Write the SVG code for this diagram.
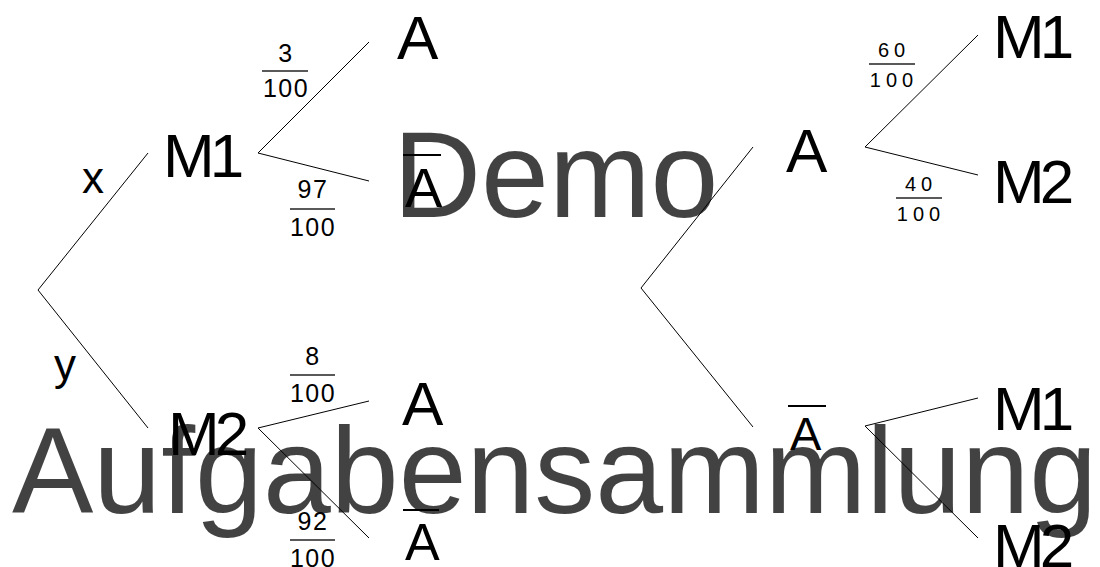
<svg xmlns="http://www.w3.org/2000/svg" width="1100" height="567" viewBox="0 0 1100 567">
<style>
text{font-family:"Liberation Sans",Arial,sans-serif;fill:#000}
.big{font-size:62px;letter-spacing:-5px}
.lbl{font-size:44px;text-anchor:middle}
.fl{font-size:25px;letter-spacing:1.5px;text-anchor:middle}
.fr{font-size:20px;letter-spacing:5px;text-anchor:middle}
.bar{stroke:#222;stroke-width:1.3}
.ov{stroke:#000;stroke-width:2}
.wm{fill:#000;fill-opacity:0.74;font-size:122px}
</style>
<rect width="1100" height="567" fill="#fff"/>
<g id="connectors" fill="none" stroke="#000" stroke-width="1">
<polyline points="148,153 38,290 148,428"/>
<polyline points="369,42 258,153 369,181"/>
<polyline points="369,401 258,428 369,538"/>
<polyline points="753,147 641,288 753,427"/>
<polyline points="978,35 865,147 978,175"/>
<polyline points="978,398 865,426 978,538"/>
</g>
<g id="edge-x"><text class="lbl" x="93" y="193">x</text></g>
<g id="edge-y"><text class="lbl" x="65" y="380">y</text></g>
<g id="node-M1"><text class="big" x="163" y="177">M1</text></g>
<g id="node-M2"><text class="big" x="168" y="455">M2</text></g>
<g id="node-M1-A"><text class="big" x="397" y="59">A</text></g>
<g id="node-M1-Abar"><line class="ov" x1="403" y1="155" x2="441" y2="155"/><text style="font-size:56px" x="405" y="207">A</text></g>
<g id="node-M2-A"><text class="big" x="402" y="425">A</text></g>
<g id="node-M2-Abar"><line class="ov" x1="403" y1="510" x2="439" y2="510"/><text style="font-size:52px" x="405" y="560">A</text></g>
<g id="node-A"><text class="big" x="786" y="172">A</text></g>
<g id="node-Abar"><line class="ov" x1="788" y1="406" x2="826" y2="406"/><text style="font-size:47px" x="790" y="450">A</text></g>
<g id="node-A-M1"><text class="big" x="993" y="58">M1</text></g>
<g id="node-A-M2"><text class="big" x="993" y="203">M2</text></g>
<g id="node-Abar-M1"><text class="big" x="993" y="430">M1</text></g>
<g id="node-Abar-M2"><text class="big" x="993" y="567">M2</text></g>
<g id="frac-3"><text class="fl" x="286" y="62">3</text><line class="bar" x1="262" y1="71" x2="308" y2="71"/><text class="fl" x="286" y="97">100</text></g>
<g id="frac-97"><text class="fl" x="313" y="198">97</text><line class="bar" x1="290" y1="209" x2="335" y2="209"/><text class="fl" x="313" y="236">100</text></g>
<g id="frac-8"><text class="fl" x="313" y="365">8</text><line class="bar" x1="290" y1="375" x2="335" y2="375"/><text class="fl" x="313" y="402">100</text></g>
<g id="frac-92"><text class="fl" x="313" y="530">92</text><line class="bar" x1="290" y1="540" x2="335" y2="540"/><text class="fl" x="313" y="567">100</text></g>
<g id="frac-60"><text class="fr" x="894" y="57">60</text><line class="bar" x1="869" y1="64" x2="915" y2="64"/><text class="fr" x="894" y="87">100</text></g>
<g id="frac-40"><text class="fr" x="921" y="191">40</text><line class="bar" x1="896" y1="198" x2="942" y2="198"/><text class="fr" x="921" y="221">100</text></g>
<g id="watermark">
<text class="wm" x="393" y="217">Demo</text>
<text class="wm" x="12" y="513">Aufgabensammlung</text>
</g>
</svg>
